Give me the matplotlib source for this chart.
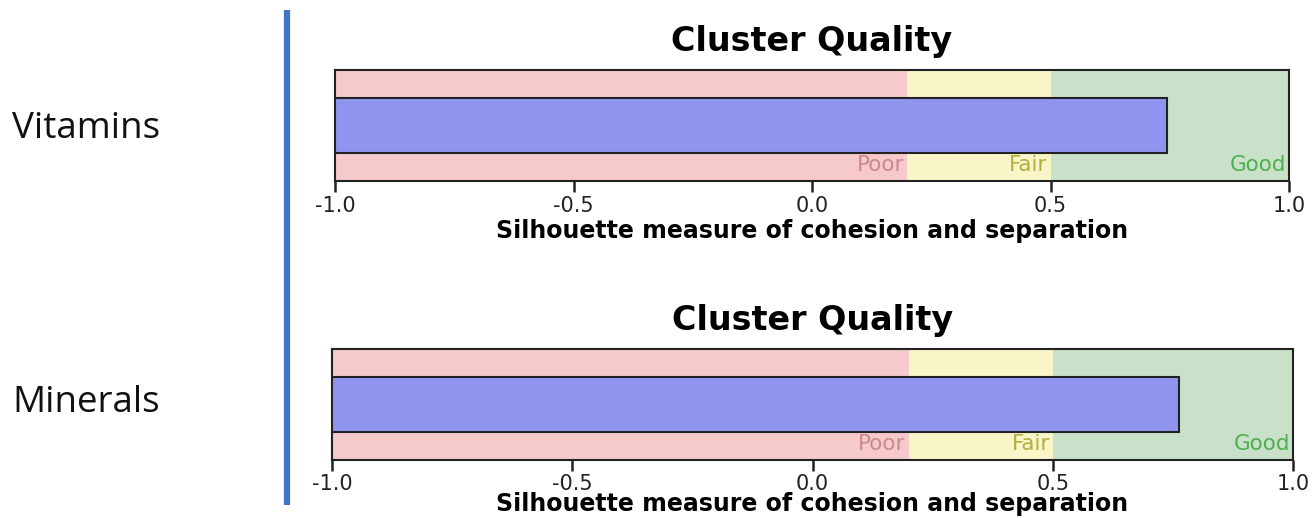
import matplotlib
matplotlib.use("Agg")
import matplotlib.pyplot as plt

# Data
datasets = ["Vitamins", "Minerals"]
silhouette = [0.744, 0.763]
zone_names = ["Poor", "Fair", "Good"]
zone_edges = [-1.0, 0.2, 0.5, 1.0]
zone_colors = ["#F6CACA", "#F8F6C8", "#C9E1C9"]
zone_text_colors = ["#C98A8C", "#B3AE3E", "#4DB04D"]
xticks = [-1.0, -0.5, 0.0, 0.5, 1.0]
xtick_labels = ["-1.0", "-0.5", "0.0", "0.5", "1.0"]
title = "Cluster Quality"
xlabel = "Silhouette measure of cohesion and separation"

W, H = 1312, 518
fig = plt.figure(figsize=(W / 100, H / 100), dpi=100)
fig.patch.set_facecolor("white")

# axes pixel boxes: (left, top, right, bottom)
boxes = [(335, 70, 1289, 181), (332, 349, 1293, 460)]
label_baseline = [138, 412]
label_pads = [2, -1.5]
tick_pads = [3, 2]

wide = ["DejaVu Sans"]

for i, name in enumerate(datasets):
    l, t, r, b = boxes[i]
    ax = fig.add_axes([l / W, 1 - b / H, (r - l) / W, (b - t) / H])
    for k in range(len(zone_names)):
        ax.axvspan(zone_edges[k], zone_edges[k + 1], color=zone_colors[k], lw=0, zorder=0)
        ax.text(zone_edges[k + 1] - 0.006, 0.09, zone_names[k], ha="right", va="baseline",
                color=zone_text_colors[k], fontsize=15.5, family=wide, zorder=2)
    ax.barh([0.5], [silhouette[i] - (-1.0)], left=-1.0, height=0.5,
            color="#8F95EF", edgecolor="#222222", linewidth=1.5, zorder=3)
    ax.set_xlim(-1.0, 1.0)
    ax.set_ylim(0, 1)
    ax.set_yticks([])
    ax.set_xticks(xticks)
    ax.set_xticklabels(xtick_labels, family=wide, fontsize=15)
    ax.tick_params(axis="x", direction="out", length=8, width=1.8, pad=tick_pads[i],
                   colors="#222222")
    for s in ax.spines.values():
        s.set_linewidth(1.5)
        s.set_color("#222222")
    ax.set_xlabel(xlabel, fontsize=17, fontweight="bold", family=wide, labelpad=label_pads[i])
    ax.set_title(title, fontsize=24, fontweight="bold", family=wide, pad=14)
    fig.text(12 / W, 1 - label_baseline[i] / H, name, fontsize=26.5,
             family=["Open Sans", "DejaVu Sans"], ha="left", va="baseline", color="#111111")

# vertical blue divider
fig.add_artist(plt.Line2D([286.5 / W, 286.5 / W], [1 - 10 / H, 1 - 505 / H],
                          color="#4472C4", lw=4.5, solid_capstyle="butt",
                          transform=fig.transFigure))

fig.savefig("out.png", dpi=100)
